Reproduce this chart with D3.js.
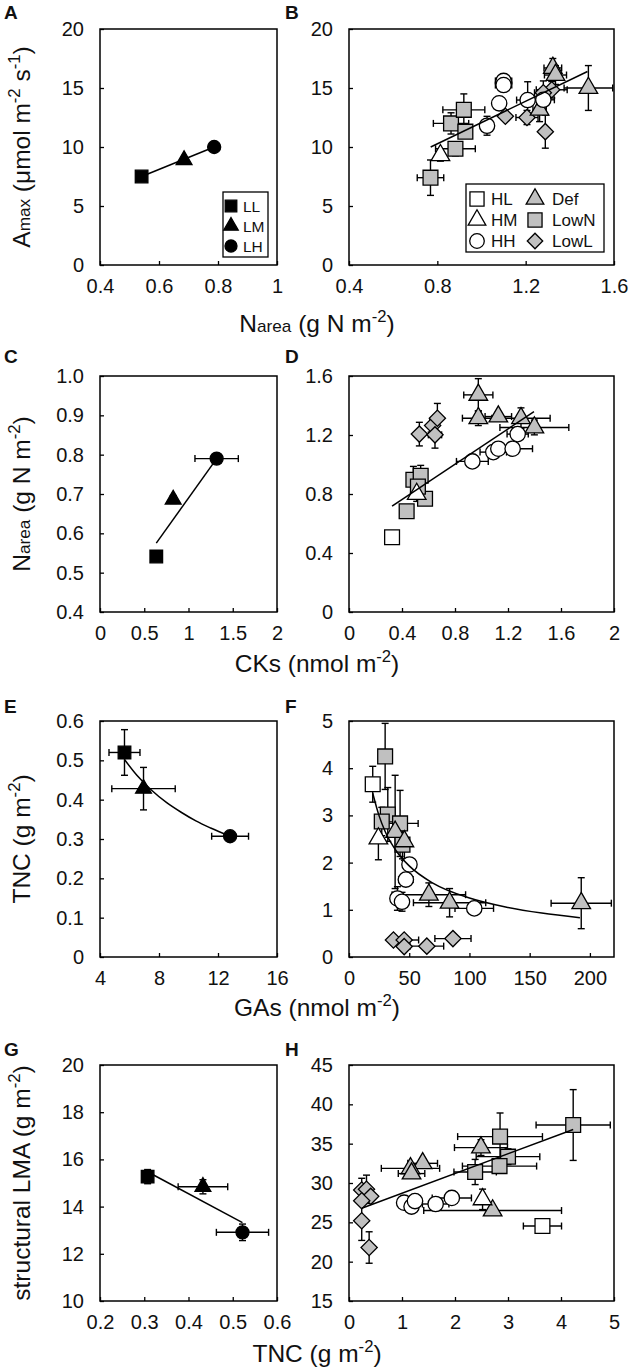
<!DOCTYPE html>
<html>
<head>
<meta charset="utf-8">
<script src="https://cdn.jsdelivr.net/npm/d3@7"></script>
<style>
  body { margin: 0; background: #fff; }
  svg { font-family: "Liberation Sans", Arial, sans-serif; }
</style>
</head>
<body>
<div id="fig"></div>
<script>
// points are [x, y, xErr, yErr]

// A: Narea vs Amax (LL, LM, LH)
var aLL = [[0.541, 7.5, 0, 0]];
var aLM = [[0.685, 8.9, 0, 0]];
var aLH = [[0.787, 10.0, 0, 0]];
var aLine = [[0.541, 7.5], [0.787, 10.0]];
var aXTicks = [0.4, 0.6, 0.8, 1];
var aYTicks = [0, 5, 10, 15, 20];

// B: Narea vs Amax (all treatments)
var bHM = [[0.814, 9.3, 0, 0.5]];
var bHH = [[1.025, 11.8, 0, 0.8], [1.08, 13.7, 0, 0], [1.10, 15.6, 0.037, 0], [1.10, 15.25, 0.037, 0.3], [1.209, 13.98, 0.05, 1.55], [1.28, 14.0, 0.05, 0.7]];
var bDef = [[1.323, 16.7, 0.04, 0.8], [1.335, 16.1, 0.05, 0.8], [1.263, 13.15, 0.03, 1.0], [1.484, 15.0, 0.11, 1.9]];
var bLowN = [[0.769, 7.4, 0.06, 1.5], [0.862, 12.0, 0.08, 0.9], [0.92, 13.15, 0.095, 1.35], [0.927, 11.3, 0.03, 0.5], [0.882, 9.85, 0.09, 0.6]];
var bLowL = [[1.108, 12.6, 0, 0], [1.206, 12.5, 0.05, 0.6], [1.289, 11.3, 0, 1.4], [1.318, 14.85, 0.07, 0.7], [1.28, 14.6, 0.04, 1.0]];
var bLine = [[0.77, 10.0], [1.48, 16.4]];
var bXTicks = [0.4, 0.8, 1.2, 1.6];
var bYTicks = [0, 5, 10, 15, 20];

// C: CKs vs Narea (LL, LM, LH)
var cLL = [[0.636, 0.541, 0, 0]];
var cLM = [[0.827, 0.686, 0, 0.01]];
var cLH = [[1.318, 0.79, 0.245, 0]];
var cLine = [[0.636, 0.575], [1.318, 0.79]];
var cXTicks = [0, 0.5, 1, 1.5, 2];
var cYTicks = [0.4, 0.5, 0.6, 0.7, 0.8, 0.9, 1.0];

// D: CKs vs Narea (all treatments)
var dHL = [[0.325, 0.507, 0.03, 0.02]];
var dHM = [[0.511, 0.80, 0.03, 0.05]];
var dHH = [[0.931, 1.021, 0.12, 0], [1.089, 1.084, 0.1, 0], [1.127, 1.107, 0.06, 0], [1.235, 1.107, 0.15, 0], [1.273, 1.206, 0.08, 0]];
var dDef = [[0.976, 1.472, 0.11, 0.11], [0.976, 1.314, 0.12, 0.05], [1.127, 1.325, 0.1, 0.03], [1.298, 1.314, 0.22, 0.07], [1.399, 1.251, 0.26, 0.05]];
var dLowN = [[0.435, 0.683, 0.05, 0.03], [0.486, 0.897, 0.04, 0.09], [0.541, 0.924, 0.04, 0.07], [0.574, 0.768, 0.05, 0.04], [0.52, 0.85, 0.05, 0.05]];
var dLowL = [[0.531, 1.206, 0.03, 0.08], [0.631, 1.264, 0.03, 0.04], [0.667, 1.314, 0.03, 0.1], [0.649, 1.201, 0.05, 0.09]];
var dLine = [[0.325, 0.717], [1.396, 1.359]];
var dXTicks = [0, 0.4, 0.8, 1.2, 1.6, 2];
var dYTicks = [0, 0.4, 0.8, 1.2, 1.6];

// E: GAs vs TNC (LL, LM, LH)
var eLL = [[5.66, 0.52, 1.05, 0.058]];
var eLM = [[6.95, 0.428, 2.15, 0.054]];
var eLH = [[12.82, 0.307, 1.25, 0]];
var eCurve = [[5.66, 0.502], [6.5, 0.462], [7.5, 0.424], [8.5, 0.393], [9.5, 0.368], [10.5, 0.346], [11.5, 0.328], [12.82, 0.307]];
var eXTicks = [4, 8, 12, 16];
var eYTicks = [0, 0.1, 0.2, 0.3, 0.4, 0.5, 0.6];

// F: GAs vs TNC (all treatments)
var fHL = [[19.7, 3.66, 0, 0.38]];
var fHM = [[24.4, 2.51, 0, 0.45]];
var fHH = [[50.2, 1.96, 0, 0], [47.2, 1.64, 6, 0], [40.2, 1.24, 0, 0.25], [44, 1.17, 0, 0.2], [104, 1.03, 16, 0]];
var fDef = [[38.3, 2.65, 0, 1.2], [46, 2.45, 0, 0.4], [66.3, 1.32, 30.5, 0.25], [83.5, 1.15, 30, 0.3], [192.8, 1.14, 25, 0.54]];
var fLowN = [[30, 4.25, 0, 0.7], [32.2, 3.02, 0, 0.57], [27.2, 2.87, 0, 0.3], [42.4, 2.83, 15, 0.7], [44.4, 2.38, 0, 0.3]];
var fLowL = [[36.9, 0.36, 0, 0], [45.8, 0.36, 12, 0], [45.8, 0.22, 0, 0], [64.6, 0.23, 14, 0], [86.3, 0.39, 15, 0]];
var fCurve = [[19.7, 3.47], [25, 2.99], [30, 2.66], [40, 2.22], [50, 1.93], [70, 1.56], [100, 1.25], [130, 1.06], [160, 0.93], [191.7, 0.83]];
var fXTicks = [0, 50, 100, 150, 200];
var fYTicks = [0, 1, 2, 3, 4, 5];

// G: TNC vs structural LMA (LL, LM, LH)
var gLL = [[0.3076, 15.27, 0.01, 0.3]];
var gLM = [[0.4326, 14.84, 0.056, 0.3]];
var gLH = [[0.522, 12.91, 0.059, 0.35]];
var gLine = [[0.321, 15.34], [0.522, 13.32]];
var gXTicks = [0.2, 0.3, 0.4, 0.5, 0.6];
var gYTicks = [10, 12, 14, 16, 18, 20];

// H: TNC vs structural LMA (all treatments)
var hHL = [[3.65, 24.53, 0.36, 0]];
var hHM = [[2.52, 27.92, 0, 1.3]];
var hHH = [[1.04, 27.5, 0, 0], [1.18, 27.0, 0, 0], [1.245, 27.7, 0, 0], [1.635, 27.33, 0.25, 0], [1.94, 28.1, 0.37, 0]];
var hDef = [[2.49, 34.5, 0.5, 1.0], [1.39, 32.5, 0.28, 0.6], [1.16, 31.86, 0.55, 0.6], [1.18, 31.2, 0.25, 0.5], [2.71, 26.5, 1.3, 0.3]];
var hLowN = [[4.23, 37.37, 0.7, 4.5], [2.85, 35.9, 0.8, 3.0], [3.0, 33.35, 0.6, 1.0], [2.84, 32.15, 0.7, 0.7], [2.38, 31.4, 0.4, 1.6]];
var hLowL = [[0.24, 29.1, 0, 1.5], [0.33, 29.2, 0, 1.8], [0.41, 28.3, 0, 0], [0.24, 27.75, 0, 0], [0.24, 25.2, 0, 2.5], [0.38, 21.8, 0, 2.0]];
var hLine = [[0.24, 26.8], [4.23, 36.8]];
var hXTicks = [0, 1, 2, 3, 4, 5];
var hYTicks = [15, 20, 25, 30, 35, 40, 45];

var FIG = {

  config: {
    width: 630,
    height: 1369,
    cols: [[100, 277], [349, 614]],
    rows: [29, 376, 721, 1065],
    plotH: 236,
    letterX: [4, 285],
    letterY: [19, 363, 713, 1056],
    xTitleY: [332, 672, 1016, 1362],
    xTitleX: 317,
    yTitleX: 30,
    ink: '#111'
  },

  styles: {
    LL: { type: 'square', fill: '#000' },
    LM: { type: 'triangle', fill: '#000' },
    LH: { type: 'circle', fill: '#000' },
    HL: { type: 'square', fill: '#fff' },
    HM: { type: 'triangle', fill: '#fff' },
    HH: { type: 'circle', fill: '#fff' },
    Def: { type: 'triangle', fill: '#c0c0c0' },
    LowN: { type: 'square', fill: '#c0c0c0' },
    LowL: { type: 'diamond', fill: '#c0c0c0' }
  },

  marker: function marker(g, name, cx, cy, scale) {
    var st = FIG.styles[name];
    var types = { square: d3.symbolSquare, triangle: d3.symbolTriangle, circle: d3.symbolCircle, diamond: d3.symbolSquare };
    var sizes = { square: 220, triangle: 150, circle: 185, diamond: 132 };
    var k = scale || 1;
    g.append('path')
        .attr('d', d3.symbol().type(types[st.type]).size(sizes[st.type] * k * k)())
        .attr('transform', 'translate(' + cx + ',' + cy + ')' + (st.type === 'diamond' ? ' rotate(45)' : ''))
        .attr('fill', st.fill)
        .attr('stroke', '#000')
        .attr('stroke-width', 1.3);
  },

  errBar: function errBar(g, x, y, p) {
    var cap = 3.5;
    var segs = [];
    if (p[2]) {
      var xa = x(p[0] - p[2]), xb = x(p[0] + p[2]), yy = y(p[1]);
      segs.push([xa, yy, xb, yy], [xa, yy - cap, xa, yy + cap], [xb, yy - cap, xb, yy + cap]);
    }
    if (p[3]) {
      var ya = y(p[1] - p[3]), yb = y(p[1] + p[3]), xx = x(p[0]);
      segs.push([xx, ya, xx, yb], [xx - cap, ya, xx + cap, ya], [xx - cap, yb, xx + cap, yb]);
    }
    segs.forEach(function(s) {
      g.append('line')
          .attr('x1', s[0]).attr('y1', s[1]).attr('x2', s[2]).attr('y2', s[3])
          .attr('stroke', '#000').attr('stroke-width', 1.4);
    });
  },

  richText: function richText(t, parts, size) {
    parts.forEach(function(p) {
      var span = t.append('tspan').text(p[0]);
      if (p[1] === 'sub') span.attr('font-size', size * 0.7);
      if (p[1] === 'sup') span.attr('font-size', size * 0.68).attr('dy', -size * 0.42);
      if (p[2]) span.attr('dy', size * 0.42);
    });
  },

  panel: function panel(svg, o) {
    var c = FIG.config;
    var x0 = c.cols[o.col][0], x1 = c.cols[o.col][1];
    var y0 = c.rows[o.row], y1 = y0 + c.plotH;
    var x = d3.scaleLinear().domain(o.xDomain).range([x0, x1]);
    var y = d3.scaleLinear().domain(o.yDomain).range([y1, y0]);
    var g = svg.append('g');
    var fmt = o.fmt || String;
    var yfmt = o.yFmt || String;

    var xAxis = g.append('g')
        .attr('transform', 'translate(0,' + y1 + ')')
        .call(d3.axisBottom(x).tickValues(o.xTicks).tickFormat(fmt).tickSizeInner(-4).tickSizeOuter(0).tickPadding(14));
    var yAxis = g.append('g')
        .attr('transform', 'translate(' + x0 + ',0)')
        .call(d3.axisLeft(y).tickValues(o.yTicks).tickFormat(yfmt).tickSizeInner(-4).tickSizeOuter(0).tickPadding(16));
    [xAxis, yAxis].forEach(function(a) {
      a.select('.domain').remove();
      a.selectAll('line').attr('stroke', '#000').attr('stroke-width', 1.3);
      a.selectAll('text').attr('font-size', 20).attr('fill', c.ink).attr('font-family', null);
    });

    g.append('rect')
        .attr('x', x0).attr('y', y0).attr('width', x1 - x0).attr('height', y1 - y0)
        .attr('fill', 'none').attr('stroke', '#000').attr('stroke-width', 1.5);

    var scale = o.col === 0 ? 0.85 : 1;
    o.series.forEach(function(s) {
      s[1].forEach(function(p) { FIG.errBar(g, x, y, p); });
    });
    o.series.forEach(function(s) {
      s[1].forEach(function(p) { FIG.marker(g, s[0], x(p[0]), y(p[1]), scale); });
    });

    var line = d3.line()
        .x(function(d) { return x(d[0]); })
        .y(function(d) { return y(d[1]); })
        .curve(d3.curveMonotoneX);
    g.append('path')
        .attr('d', line(o.line))
        .attr('fill', 'none').attr('stroke', '#000').attr('stroke-width', 1.5);

    g.append('text')
        .attr('x', c.letterX[o.col]).attr('y', c.letterY[o.row])
        .attr('font-size', 19).attr('font-weight', 'bold').attr('fill', c.ink)
        .text(o.letter);

    if (o.legend) FIG.legend(g, o.legend);
  },

  legend: function legend(g, L) {
    g.append('rect')
        .attr('x', L.x).attr('y', L.y).attr('width', L.w).attr('height', L.h)
        .attr('fill', '#fff').attr('stroke', '#000').attr('stroke-width', 1.3);
    L.cols.forEach(function(col, ci) {
      col.forEach(function(name, ri) {
        var cy = L.y + L.top + ri * L.step;
        FIG.marker(g, name, L.x + L.symX[ci], cy, L.scale);
        g.append('text')
            .attr('x', L.x + L.textX[ci]).attr('y', cy)
            .attr('dy', '0.36em')
            .attr('font-size', L.font).attr('fill', FIG.config.ink)
            .text(name);
      });
    });
  },

  yTitle: function yTitle(svg, row, parts) {
    var c = FIG.config;
    var cy = c.rows[row] + c.plotH / 2;
    var t = svg.append('text')
        .attr('transform', 'translate(' + c.yTitleX + ',' + cy + ') rotate(-90)')
        .attr('text-anchor', 'middle')
        .attr('font-size', 24.5).attr('fill', c.ink);
    FIG.richText(t, parts, 24.5);
  },

  xTitle: function xTitle(svg, row, parts) {
    var c = FIG.config;
    var t = svg.append('text')
        .attr('x', c.xTitleX).attr('y', c.xTitleY[row])
        .attr('text-anchor', 'middle')
        .attr('font-size', 24.5).attr('fill', c.ink);
    FIG.richText(t, parts, 24.5);
  },

  draw: function draw() {
    var c = FIG.config;
    var svg = d3.select('#fig').append('svg')
        .attr('width', c.width)
        .attr('height', c.height);

    FIG.panel(svg, { col: 0, row: 0, letter: 'A', xDomain: [0.4, 1], yDomain: [0, 20], xTicks: aXTicks, yTicks: aYTicks,
      series: [['LL', aLL], ['LM', aLM], ['LH', aLH]], line: aLine,
      legend: { x: 223, y: 192, w: 45, h: 65, top: 14, step: 20, symX: [8], textX: [20], cols: [['LL', 'LM', 'LH']], font: 15.5, scale: 0.78 } });
    FIG.panel(svg, { col: 1, row: 0, letter: 'B', xDomain: [0.4, 1.6], yDomain: [0, 20], xTicks: bXTicks, yTicks: bYTicks,
      series: [['LowL', bLowL], ['LowN', bLowN], ['Def', bDef], ['HM', bHM], ['HH', bHH]], line: bLine,
      legend: { x: 466, y: 184, w: 138, h: 68, top: 15, step: 21, symX: [11, 69], textX: [25, 86], cols: [['HL', 'HM', 'HH'], ['Def', 'LowN', 'LowL']], font: 17, scale: 0.95 } });

    FIG.panel(svg, { col: 0, row: 1, letter: 'C', xDomain: [0, 2], yDomain: [0.4, 1.0], xTicks: cXTicks, yTicks: cYTicks,
      yFmt: d3.format('.1f'),
      series: [['LL', cLL], ['LM', cLM], ['LH', cLH]], line: cLine });
    FIG.panel(svg, { col: 1, row: 1, letter: 'D', xDomain: [0, 2], yDomain: [0, 1.6], xTicks: dXTicks, yTicks: dYTicks,
      series: [['LowL', dLowL], ['LowN', dLowN], ['Def', dDef], ['HL', dHL], ['HM', dHM], ['HH', dHH]], line: dLine });

    FIG.panel(svg, { col: 0, row: 2, letter: 'E', xDomain: [4, 16], yDomain: [0, 0.6], xTicks: eXTicks, yTicks: eYTicks,
      series: [['LL', eLL], ['LM', eLM], ['LH', eLH]], line: eCurve });
    FIG.panel(svg, { col: 1, row: 2, letter: 'F', xDomain: [0, 220], yDomain: [0, 5], xTicks: fXTicks, yTicks: fYTicks,
      series: [['LowL', fLowL], ['LowN', fLowN], ['Def', fDef], ['HL', fHL], ['HM', fHM], ['HH', fHH]], line: fCurve });

    FIG.panel(svg, { col: 0, row: 3, letter: 'G', xDomain: [0.2, 0.6], yDomain: [10, 20], xTicks: gXTicks, yTicks: gYTicks,
      series: [['LL', gLL], ['LM', gLM], ['LH', gLH]], line: gLine });
    FIG.panel(svg, { col: 1, row: 3, letter: 'H', xDomain: [0, 5], yDomain: [15, 45], xTicks: hXTicks, yTicks: hYTicks,
      series: [['LowL', hLowL], ['LowN', hLowN], ['Def', hDef], ['HL', hHL], ['HM', hHM], ['HH', hHH]], line: hLine });

    FIG.yTitle(svg, 0, [['A'], ['max', 'sub'], [' (\u03bcmol m'], ['-2', 'sup'], [' s', null, true], ['-1', 'sup'], [')', null, true]]);
    FIG.yTitle(svg, 1, [['N'], ['area', 'sub'], [' (g N m'], ['-2', 'sup'], [')', null, true]]);
    FIG.yTitle(svg, 2, [['TNC (g m'], ['-2', 'sup'], [')', null, true]]);
    FIG.yTitle(svg, 3, [['structural LMA (g m'], ['-2', 'sup'], [')', null, true]]);

    FIG.xTitle(svg, 0, [['N'], ['area', 'sub'], [' (g N m'], ['-2', 'sup'], [')', null, true]]);
    FIG.xTitle(svg, 1, [['CKs (nmol m'], ['-2', 'sup'], [')', null, true]]);
    FIG.xTitle(svg, 2, [['GAs (nmol m'], ['-2', 'sup'], [')', null, true]]);
    FIG.xTitle(svg, 3, [['TNC (g m'], ['-2', 'sup'], [')', null, true]]);
  }
};

FIG.draw();
</script>
</body>
</html>
